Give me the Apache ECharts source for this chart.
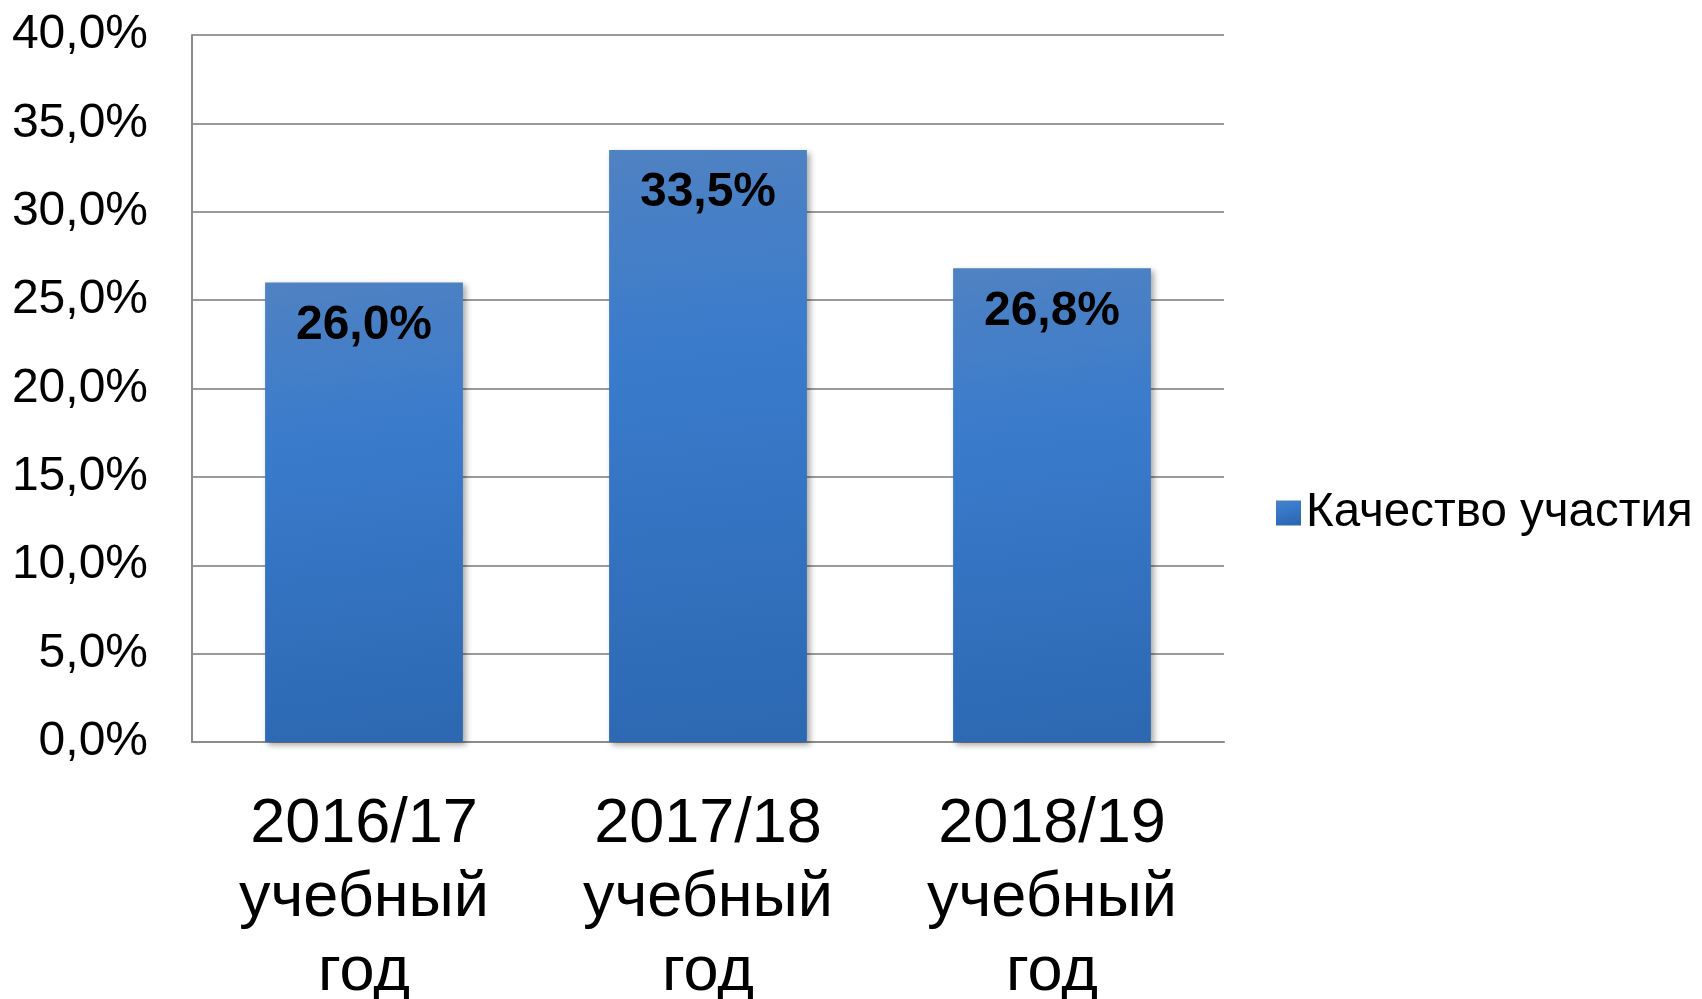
<!DOCTYPE html>
<html>
<head>
<meta charset="utf-8">
<script src="https://cdn.jsdelivr.net/npm/echarts@6/dist/echarts.min.js"></script>
<style>
  html, body { margin: 0; padding: 0; background: #fff; }
  #chart { width: 1702px; height: 999px; }
</style>
</head>
<body>
<div id="chart"></div>
<script>
const categories = ['2016/17\nучебный\nгод', '2017/18\nучебный\nгод', '2018/19\nучебный\nгод'];
const seriesName = 'Качество участия';
const values = [26.0, 33.5, 26.8];
const yTicks = [0, 5, 10, 15, 20, 25, 30, 35, 40];

const fmt = v => v.toFixed(1).replace('.', ',') + '%';

const barColor = new echarts.graphic.LinearGradient(0, 0, 0.3, 1, [
  { offset: 0, color: '#4f82c2' },
  { offset: 0.35, color: '#3a7bcc' },
  { offset: 1, color: '#2d69b3' }
]);

const chart = echarts.init(document.getElementById('chart'));
chart.setOption({
  backgroundColor: '#fff',
  animation: false,
  textStyle: { fontFamily: 'Liberation Sans, Arial, sans-serif' },
  grid: { left: 192, right: 478, top: 35, bottom: 257, containLabel: false, outerBoundsMode: 'none' },
  legend: {
    data: [seriesName],
    left: 1271,
    top: 484,
    icon: 'rect',
    itemWidth: 25,
    itemHeight: 25,
    itemGap: 13,
    textStyle: { fontSize: 47.5, color: '#000', padding: [0, 0, 0, 0] }
  },
  xAxis: {
    type: 'category',
    data: categories,
    axisLine: { lineStyle: { color: '#8c8c8c', width: 2 } },
    axisTick: { show: false },
    axisLabel: {
      fontSize: 63,
      lineHeight: 74,
      color: '#000',
      margin: 46
    }
  },
  yAxis: {
    type: 'value',
    min: yTicks[0],
    max: yTicks[yTicks.length - 1],
    interval: 5,
    axisLine: { show: true, lineStyle: { color: '#8c8c8c', width: 2 } },
    axisTick: { show: false },
    splitLine: { lineStyle: { color: '#9a9a9a', width: 2 } },
    axisLabel: {
      fontSize: 48,
      color: '#000',
      margin: 44,
      padding: [6, 0, 0, 0],
      formatter: v => fmt(v)
    }
  },
  series: [{
    name: seriesName,
    type: 'bar',
    data: values,
    barWidth: '57.5%',
    itemStyle: {
      color: barColor,
      shadowColor: 'rgba(0,0,0,0.35)',
      shadowBlur: 6,
      shadowOffsetX: 3,
      shadowOffsetY: 3
    },
    label: {
      show: true,
      position: 'insideTop',
      distance: 19,
      fontSize: 48,
      fontWeight: 'bold',
      color: '#000',
      formatter: p => fmt(p.value)
    }
  }]
});
</script>
</body>
</html>
